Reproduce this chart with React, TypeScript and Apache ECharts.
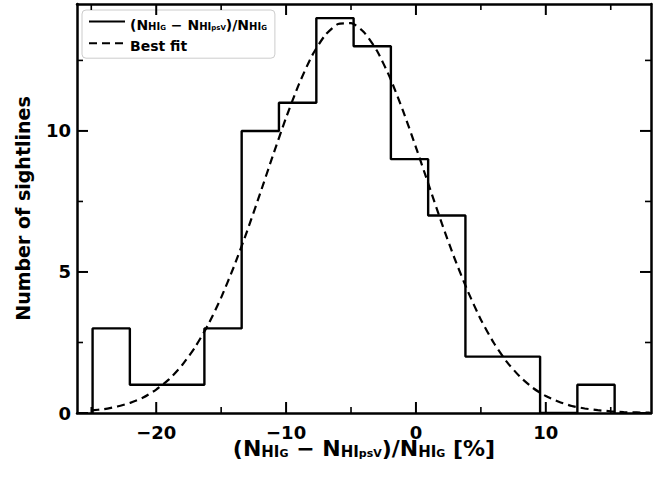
import React, { useEffect, useRef } from "react";
import * as echarts from "echarts";

// Histogram (step outline)
const binEdges = [-24.9, -22.03, -19.16, -16.29, -13.42, -10.55, -7.67, -4.8, -1.93, 0.94, 3.81, 6.68, 9.56, 12.43, 15.3];
const binCounts = [3, 1, 1, 3, 10, 11, 14, 13, 9, 7, 2, 2, 0, 1];

// Best-fit curve
const fitX = [-25, -24, -23, -22, -21, -20, -19, -18, -17, -16, -15, -14, -13, -12, -11, -10, -9, -8, -7, -6, -5, -4, -3, -2, -1, 0, 1, 2, 3, 4, 5, 6, 7, 8, 9, 10, 11, 12, 13, 14, 15, 16, 17, 18];
const fitY = [0.09, 0.14, 0.23, 0.36, 0.55, 0.83, 1.2, 1.7, 2.34, 3.13, 4.09, 5.21, 6.45, 7.78, 9.15, 10.47, 11.67, 12.67, 13.39, 13.79, 13.82, 13.5, 12.84, 11.89, 10.72, 9.42, 8.06, 6.71, 5.45, 4.31, 3.31, 2.48, 1.81, 1.29, 0.89, 0.6, 0.4, 0.25, 0.16, 0.1, 0.06, 0.03, 0.02, 0.01];

// Axis ranges and tick values
const xRange = [-26.1, 18.1];
const yRange = [0, 14.5];
const xMajorTicks = [-20, -10, 0, 10];
const xMinorTicks = [-25, -15, -5, 5, 15];
const yMajorTicks = [0, 5, 10];
const yMinorTicks = [2.5, 7.5, 12.5];
const legendNames = ["hist", "fit"];

const FONT = "DejaVu Sans";
const NO_MARK = "path://M0,0L10,10";

export default function App() {
  const ref = useRef<HTMLDivElement>(null);
  useEffect(() => {
    if (!ref.current) return;
    const chart = echarts.init(ref.current, null, { renderer: "svg" });

    const stepData: number[][] = [[binEdges[0], 0]];
    binCounts.forEach((c, i) => {
      stepData.push([binEdges[i], c]);
      stepData.push([binEdges[i + 1], c]);
    });
    stepData.push([binEdges[binEdges.length - 1], 0]);
    const fitData = fitX.map((x, i) => [x, fitY[i]]);

    // tick items: [x, y, axisDir(0 = x tick, 1 = y tick), major(1)/minor(0)]
    const tickData: number[][] = [
      ...xMajorTicks.map((v) => [v, yRange[0], 0, 1]),
      ...xMinorTicks.map((v) => [v, yRange[0], 0, 0]),
      ...yMajorTicks.map((v) => [xRange[0], v, 1, 1]),
      ...yMinorTicks.map((v) => [xRange[0], v, 1, 0]),
    ];

    const fmt = (v: number) => (v < 0 ? "\u2212" + Math.abs(v) : String(v));

    const axisLine = () => ({ onZero: false, lineStyle: { color: "#000", width: 2.5 } });

    const richBig = (fs: number) => ({
      m: { fontFamily: FONT, fontWeight: "bold", fontSize: fs, lineHeight: Math.round(fs * 1.4), color: "#000", verticalAlign: "bottom" },
      s: { fontFamily: FONT, fontWeight: "bold", fontSize: Math.round(fs * 0.7), lineHeight: Math.round(fs * 0.75), color: "#000", verticalAlign: "bottom" },
      t: { fontFamily: FONT, fontWeight: "bold", fontSize: Math.round(fs * 0.5), lineHeight: Math.round(fs * 0.25), color: "#000", verticalAlign: "bottom" },
    });
    const ratioLabel = "{m|(N}{s|HI}{t|G}{m| \u2212 N}{s|HI}{t|psV}{m|)/N}{s|HI}{t|G}";

    const xBase = () => ({
      type: "value",
      min: xRange[0],
      max: xRange[1],
      minInterval: 10,
      maxInterval: 10,
      axisLine: axisLine(),
      axisTick: { show: false },
      splitLine: { show: false },
    });
    const yBase = () => ({
      type: "value",
      min: yRange[0],
      max: yRange[1],
      interval: 5,
      axisLine: axisLine(),
      axisTick: { show: false },
      splitLine: { show: false },
    });

    const option: any = {
      animation: false,
      grid: { left: 77, right: 16, top: 4, bottom: 65 },
      legend: {
        orient: "vertical",
        left: 82,
        top: 10,
        data: legendNames,
        itemWidth: 36,
        itemHeight: 14,
        itemGap: 6,
        padding: [6, 8, 5, 6],
        backgroundColor: "rgba(255,255,255,0.85)",
        borderColor: "#cccccc",
        borderWidth: 1,
        borderRadius: 4,
        formatter: (name: string) => (name === "hist" ? ratioLabel : "{m|Best fit}"),
        textStyle: { rich: richBig(14) },
      },
      xAxis: [
        {
          ...xBase(),
          position: "bottom",
          axisLabel: {
            showMinLabel: false,
            showMaxLabel: false,
            margin: 10,
            formatter: fmt,
            fontFamily: FONT,
            fontWeight: "bold",
            fontSize: 18,
            color: "#000",
          },
          name: ratioLabel + "{m| [%]}",
          nameLocation: "middle",
          nameGap: 15,
          nameMoveOverlap: false,
          nameTextStyle: { rich: richBig(22) },
        },
        {
          ...xBase(),
          position: "top",
          axisLabel: { show: false },
        },
      ],
      yAxis: [
        {
          ...yBase(),
          position: "left",
          axisLabel: {
            showMaxLabel: false,
            margin: 6,
            fontFamily: FONT,
            fontWeight: "bold",
            fontSize: 18,
            color: "#000",
          },
          name: "Number of sightlines",
          nameLocation: "middle",
          nameGap: 45,
          nameMoveOverlap: false,
          nameTextStyle: { fontFamily: FONT, fontWeight: "bold", fontSize: 19, color: "#000" },
        },
        {
          ...yBase(),
          position: "right",
          axisLabel: { show: false },
        },
      ],
      series: [
        {
          name: "hist",
          type: "line",
          data: stepData,
          symbol: NO_MARK,
          showSymbol: false,
          lineStyle: { color: "#000", width: 2.4 },
          itemStyle: { color: "#000", borderWidth: 0 },
          z: 3,
        },
        {
          name: "fit",
          type: "line",
          data: fitData,
          symbol: NO_MARK,
          showSymbol: false,
          smooth: 0.2,
          lineStyle: { color: "#000", width: 2.2, type: [8, 5] },
          itemStyle: { color: "#000", borderWidth: 0 },
          z: 4,
        },
        {
          name: "ticks",
          type: "custom",
          data: tickData,
          encode: { x: 0, y: 1 },
          silent: true,
          clip: false,
          z: 20,
          renderItem: (params: any, api: any) => {
            const cs = params.coordSys;
            const p = api.coord([api.value(0), api.value(1)]);
            const isY = api.value(2) === 1;
            const major = api.value(3) === 1;
            const len = major ? 11 : 6;
            const style = { stroke: "#000", lineWidth: major ? 2 : 1.6 };
            if (!isY) {
              const yb = cs.y + cs.height;
              const yt = cs.y;
              return {
                type: "group",
                children: [
                  { type: "line", shape: { x1: p[0], y1: yb, x2: p[0], y2: yb - len }, style },
                  { type: "line", shape: { x1: p[0], y1: yt, x2: p[0], y2: yt + len }, style },
                ],
              };
            }
            const xl = cs.x;
            const xr = cs.x + cs.width;
            return {
              type: "group",
              children: [
                { type: "line", shape: { x1: xl, y1: p[1], x2: xl + len, y2: p[1] }, style },
                { type: "line", shape: { x1: xr, y1: p[1], x2: xr - len, y2: p[1] }, style },
              ],
            };
          },
        },
      ],
    };
    chart.setOption(option);
    return () => chart.dispose();
  }, []);

  return (
    <div
      ref={ref}
      style={{ position: "fixed", left: 0, top: 0, width: 667, height: 478, background: "#fff" }}
    />
  );
}
